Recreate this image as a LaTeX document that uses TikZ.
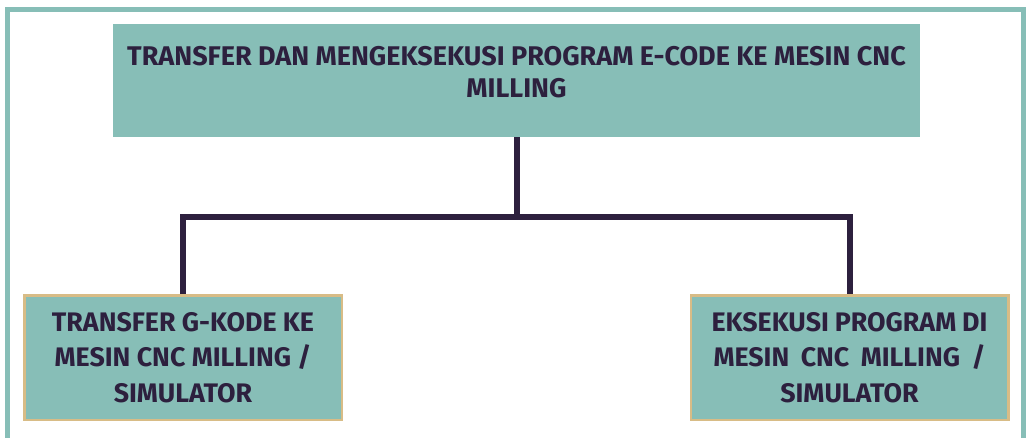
\documentclass[tikz,border=0pt]{standalone}
\usepackage{fontspec}
\setmainfont{Fira Sans}
\usetikzlibrary{positioning}
\definecolor{tealbox}{RGB}{135,190,183}
\definecolor{inkline}{RGB}{45,32,62}
\definecolor{tanline}{RGB}{216,188,134}

\begin{document}
\begin{tikzpicture}[x=1pt,y=-1pt,
    box/.style={fill=tealbox,inner sep=0pt},
    leaf/.style={box,draw=tanline,line width=2.5pt,minimum width=317.5pt,minimum height=124.5pt,
      align=center,text=inkline,font=\bfseries\fontsize{26.8}{35.5}\selectfont},
    link/.style={draw=inkline,line width=6pt}]
  \useasboundingbox (0,0) rectangle (1027,437);
  % frame, left open at the bottom
  \draw[tealbox,line width=5pt] (7.5,450) -- (7.5,9.5) -- (1023.5,9.5) -- (1023.5,450);
  \node[box,minimum width=807pt,minimum height=113pt] (root) at (516.5,80.5) {};
  \node[text=inkline,align=center,font=\bfseries\fontsize{27}{32}\selectfont] (roottext) at (516.5,72)
    {TRANSFER DAN MENGEKSEKUSI PROGRAM E-CODE KE MESIN CNC\\MILLING};
  \coordinate (split) at (516.5,217);
  \draw[link] (root.south) -- (split);
  \node[leaf] (transfer) at (183,357.5) {TRANSFER G-KODE KE\\MESIN CNC MILLING /\\SIMULATOR};
  \node[leaf] (exec) at (849.5,357.5)
    {\makebox[276pt][s]{EKSEKUSI PROGRAM DI}\\\makebox[272pt][s]{MESIN CNC MILLING /}\\SIMULATOR};
  \draw[link] (transfer.north) |- (split) -| (exec.north);
\end{tikzpicture}
\end{document}
